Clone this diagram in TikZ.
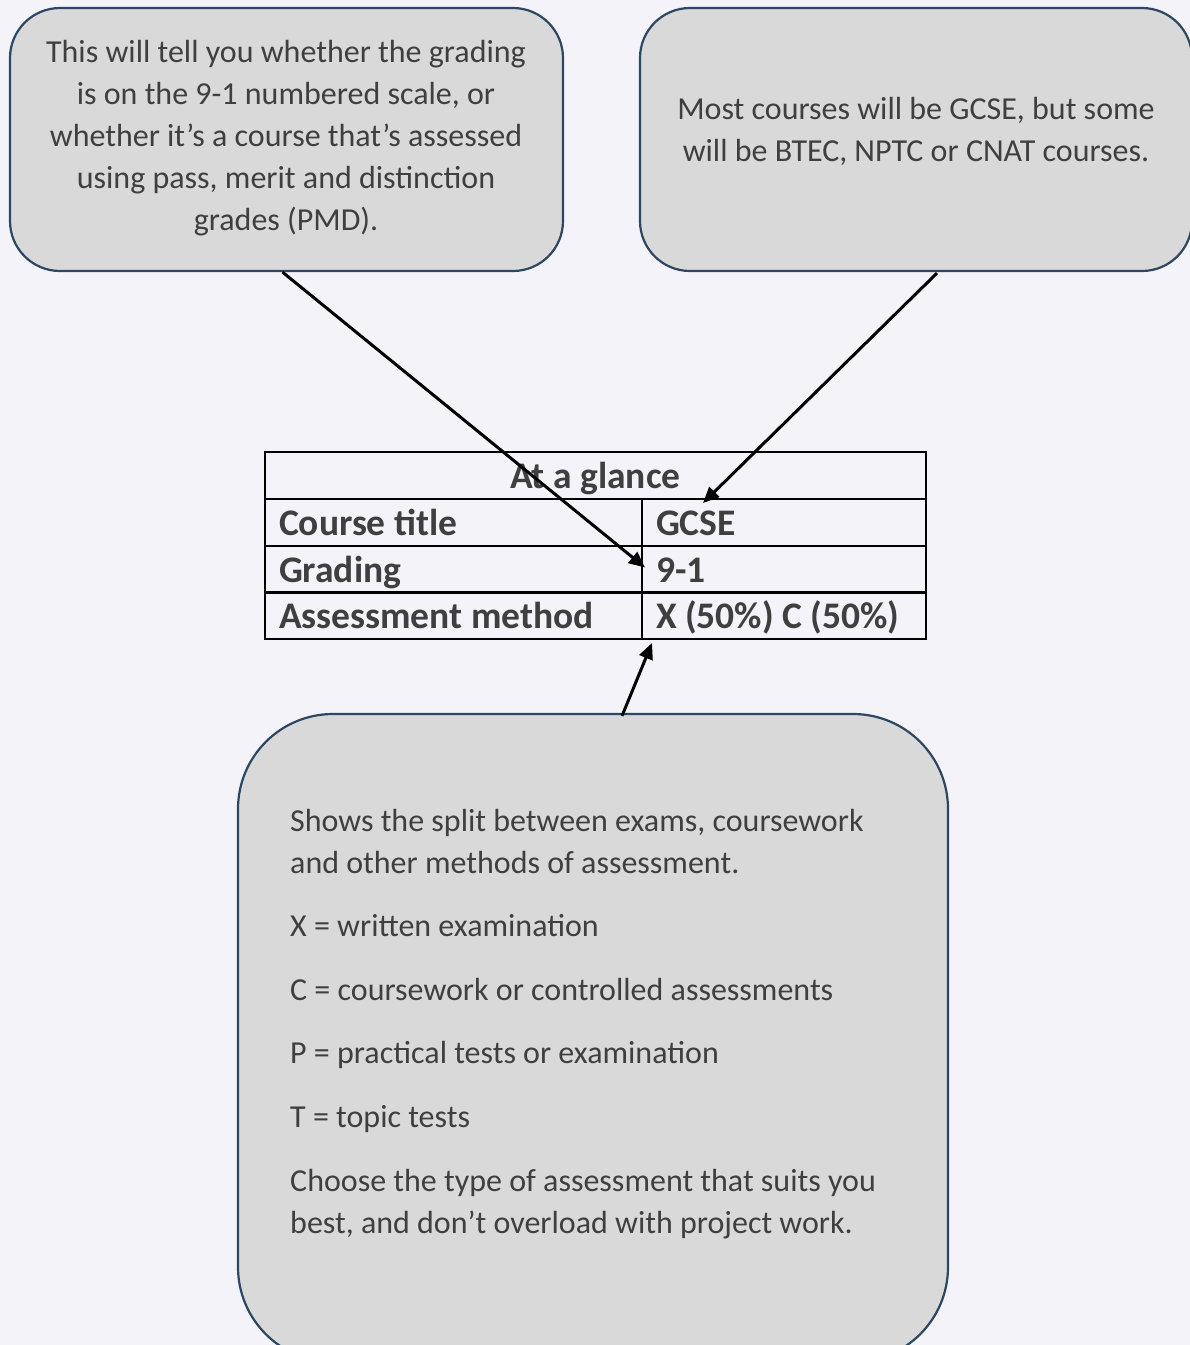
\documentclass[tikz,border=0pt]{standalone}
\usepackage{fontspec}
\setmainfont{Carlito}
\usetikzlibrary{calc,arrows.meta}
\definecolor{bg}{HTML}{F5F3FA}
\definecolor{boxfill}{HTML}{D9D9D9}
\definecolor{boxdraw}{HTML}{2C4763}
\definecolor{txt}{HTML}{3F3F3F}
\begin{document}
\begin{tikzpicture}[x=1pt,y=-1pt,
  callout/.style={draw=boxdraw, fill=boxfill, line width=2.2pt, rounded corners=#1, inner sep=0pt},
  bodytext/.style={text=txt, font=\fontsize{32}{42}\selectfont, inner sep=0pt},
  cell/.style={draw=black, line width=2pt, anchor=north west, inner xsep=14pt, inner ysep=0pt,
    minimum height=47pt, text height=30pt, text depth=4pt, text=txt, font=\bfseries\fontsize{37.5}{40}\selectfont},
  pointer/.style={draw=black, line width=3pt, -{Triangle[length=16pt,width=14pt]}}]
\fill[bg] (0,0) rectangle (1190,1345);
\useasboundingbox (0,0) rectangle (1190,1345);

% callout boxes
\node[callout=50pt, minimum width=553pt, minimum height=263pt] (b1) at (286.5,139.5) {};
\node[callout=50pt, minimum width=552pt, minimum height=263pt] (b2) at (916,139.5) {};
\node[callout=95pt, minimum width=710pt, minimum height=648pt] (b3) at (593,1038) {};

\node[bodytext, align=center] (t1) at (286,138) {This will tell you whether the grading\\is on the 9-1 numbered scale, or\\whether it’s a course that’s assessed\\using pass, merit and distinction\\grades (PMD).};
\node[bodytext, align=center] (t2) at (916,131) {Most courses will be GCSE, but some\\will be BTEC, NPTC or CNAT courses.};
\node[bodytext, text width=640pt, align=flush left, anchor=base west] (t3) at (290,831) {Shows the split between exams, coursework\\and other methods of assessment.\\[21.6pt]X = written examination\\[21.6pt]C = coursework or controlled assessments\\[21.6pt]P = practical tests or examination\\[21.6pt]T = topic tests\\[21.6pt]Choose the type of assessment that suits you\\best, and don’t overload with project work.};

% table
\node[cell, minimum width=661pt, text width=633pt, align=flush center] (head) at (264,451) {At a glance};
\node[cell, minimum width=377pt, text width=349pt, align=flush left] (k1) at (264,498) {Course title};
\node[cell, minimum width=284pt, text width=256pt, align=flush left] (v1) at (641,498) {GCSE};
\node[cell, minimum width=377pt, text width=349pt, align=flush left] (k2) at (264,545) {Grading};
\node[cell, minimum width=284pt, text width=256pt, align=flush left] (v2) at (641,545) {9-1};
\node[cell, minimum width=377pt, text width=349pt, align=flush left] (k3) at (264,591) {Assessment method};
\node[cell, minimum width=284pt, text width=256pt, align=flush left] (v3) at (641,591) {X (50\%) C (50\%)};

% connectors
\draw[pointer] ($(b1.south)+(-4,0)$) -- ($(v2.west)+(4,-2)$);
\draw[pointer] ($(b2.south)+(21,1)$) -- ($(v1.north west)+(62,5)$);
\draw[pointer] ($(b3.north)+(29,3)$) -- ($(v3.south west)+(11,3)$);
\end{tikzpicture}
\end{document}
